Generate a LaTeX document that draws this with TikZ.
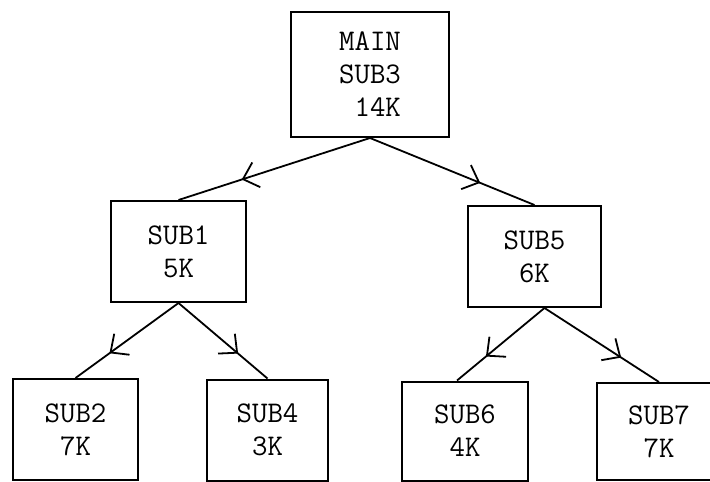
\documentclass[tikz,border=0pt]{standalone}
\usepackage{fontspec}
\setmonofont{Latin Modern Mono}
\usetikzlibrary{arrows.meta,decorations.markings}
\tikzset{
  module/.style={rectangle, draw=black, line width=2pt, inner sep=0pt, align=center, font=\ttfamily\fontsize{30}{33}\selectfont},
  call/.style={draw=black, line width=1.8pt, postaction={decorate},
    decoration={markings, mark=at position 0.67 with {\arrow{Straight Barb[length=14pt,width=26pt,line width=1.8pt]}}}}
}

\begin{document}
\begin{tikzpicture}[x=1pt, y=-1pt]
  \useasboundingbox (0,0) rectangle (710,482);
  \clip (0,0) rectangle (710,482);

  % Modules (nodes)
  \node[module, minimum width=158pt, minimum height=125pt] (MAIN) at (370,74.5) {MAIN\\SUB3\\~14K};
  \node[module, minimum width=135pt, minimum height=101pt] (SUB1) at (178.5,251.5) {SUB1\\5K};
  \node[module, minimum width=133pt, minimum height=101pt] (SUB5) at (534.5,256.5) {SUB5\\6K};
  \node[module, minimum width=125pt, minimum height=101pt] (SUB2) at (75.5,429.5) {SUB2\\7K};
  \node[module, minimum width=121pt, minimum height=101pt] (SUB4) at (267.5,430) {SUB4\\3K};
  \node[module, minimum width=126pt, minimum height=99pt] (SUB6) at (465,431) {SUB6\\4K};
  \node[module, minimum width=125pt, minimum height=97pt] (SUB7) at (659,431.5) {SUB7\\7K};

  % Calls (edges)
  \draw[call] (MAIN.south) -- (SUB1.north);
  \draw[call] (MAIN.south) -- (SUB5.north);
  \draw[call] (SUB1.south) -- (SUB2.north);
  \draw[call] (SUB1.south) -- (SUB4.north);
  \draw[call] ([xshift=10pt]SUB5.south) -- ([xshift=-8pt]SUB6.north);
  \draw[call] ([xshift=10pt]SUB5.south) -- (SUB7.north);
\end{tikzpicture}
\end{document}
